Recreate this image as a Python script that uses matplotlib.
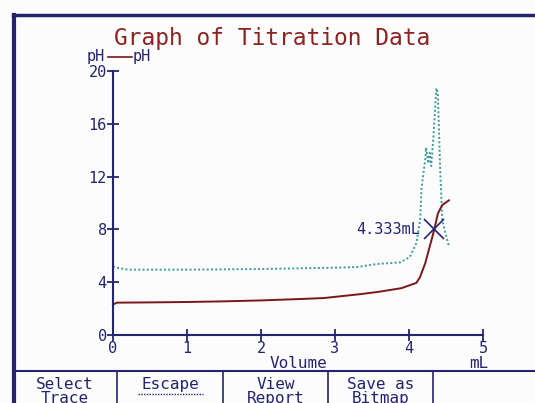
import matplotlib.pyplot as plt

navy = "#24246e"
title_red = "#8c2323"
line_red = "#7a1818"
teal = "#3a9a98"
mono = "DejaVu Sans Mono"

# titration curve (pH vs volume)
vol_ph = [0.0, 0.05, 0.5, 1.0, 1.5, 2.0, 2.5, 2.85, 3.1, 3.35, 3.6, 3.9,
          4.1, 4.15, 4.22, 4.28, 4.34, 4.39, 4.45, 4.54]
ph = [2.3, 2.45, 2.47, 2.5, 2.55, 2.62, 2.72, 2.8, 2.95, 3.1, 3.28, 3.55,
      3.95, 4.4, 5.45, 6.7, 7.95, 9.2, 9.85, 10.2]

# second trace (dotted)
vol_dot = [0.0, 0.05, 0.2, 1.0, 2.0, 2.5, 3.0, 3.3, 3.57, 3.88, 4.01, 4.1,
           4.15, 4.17, 4.22, 4.23, 4.26, 4.28, 4.3, 4.33, 4.37, 4.39, 4.42,
           4.45, 4.48, 4.54]
dot_vals = [5.2, 5.1, 4.95, 4.95, 5.0, 5.05, 5.1, 5.15, 5.38, 5.5, 5.9, 6.97,
            8.7, 11.2, 13.3, 14.2, 13.0, 13.8, 12.8, 15.0, 18.7, 18.3, 12.7,
            8.7, 8.0, 6.7]

endpoint_vol = 4.333
endpoint_ph = 8.0

x_ticks = [0, 1, 2, 3, 4, 5]
y_ticks = [0, 4, 8, 12, 16, 20]
buttons = ["Select\nTrace", "Escape", "View\nReport", "Save as\nBitmap"]

W, H = 535, 403
fig = plt.figure(figsize=(W / 100, H / 100), dpi=100)
fig.patch.set_facecolor("#fcfcfc")

# frame / button bar drawn in pixel coords
bg = fig.add_axes([0, 0, 1, 1])
bg.set_xlim(0, W)
bg.set_ylim(H, 0)
bg.axis("off")
bg.plot([13, W], [15, 15], color=navy, lw=2.5)
bg.plot([13.5, 13.5], [15, H], color=navy, lw=3)
bg.plot([13, W], [371, 371], color=navy, lw=1.5)
seps = [117, 223, 328, 433]
for s in seps:
    bg.plot([s, s], [371, H], color=navy, lw=1.2)
lefts = [13] + seps[:-1]
for i, txt in enumerate(buttons):
    cx = (lefts[i] + seps[i]) / 2
    bg.text(cx, 377, txt, ha="center", va="top", color=navy, family=mono,
            fontsize=11.5, linespacing=0.92)
bg.plot([138, 203], [394, 394], color=navy, lw=1, ls=(0, (1, 1)))

bg.text(272, 39, "Graph of Titration Data", ha="center", va="center",
        color=title_red, family=mono, fontsize=16.5)

# legend "pH—pH"
bg.text(87, 57, "pH", ha="left", va="center", color=navy, family=mono, fontsize=11)
bg.plot([108, 132], [57, 57], color=line_red, lw=1.2)
bg.text(133, 57, "pH", ha="left", va="center", color=navy, family=mono, fontsize=11)

bg.text(298, 363, "Volume", ha="center", va="center", color=navy, family=mono, fontsize=11.5)
bg.text(479, 363, "mL", ha="center", va="center", color=navy, family=mono, fontsize=11.5)

# data axes
x0, x1 = 113, 483
y0, y1 = 335, 71
ax = fig.add_axes([x0 / W, 1 - y0 / H, (x1 - x0) / W, (y0 - y1) / H])
ax.set_facecolor("none")
ax.set_xlim(0, 5)
ax.set_ylim(0, 20)
for sp in ["top", "right"]:
    ax.spines[sp].set_visible(False)
for sp in ["left", "bottom"]:
    ax.spines[sp].set_color(navy)
    ax.spines[sp].set_linewidth(1.5)
ax.set_xticks(x_ticks)
ax.set_yticks(y_ticks)
ax.tick_params(direction="inout", length=9, width=1.3, color=navy,
               labelcolor=navy, labelsize=11, pad=0)
for lab in ax.get_xticklabels() + ax.get_yticklabels():
    lab.set_family(mono)

ax.plot(vol_dot, dot_vals, color=teal, lw=1.4, ls=(0, (1, 1.2)), clip_on=False)
ax.plot(vol_ph, ph, color=line_red, lw=1.4, clip_on=False)
ax.plot([endpoint_vol], [endpoint_ph], marker="x", ms=14, mew=1.2,
        color=navy, clip_on=False)
ax.annotate(f"{endpoint_vol:.3f}mL", (endpoint_vol, endpoint_ph),
            xytext=(-10, 0), textcoords="offset points", ha="right",
            va="center", color=navy, family=mono, fontsize=11)

fig.savefig("out.png", dpi=100, facecolor=fig.get_facecolor())
